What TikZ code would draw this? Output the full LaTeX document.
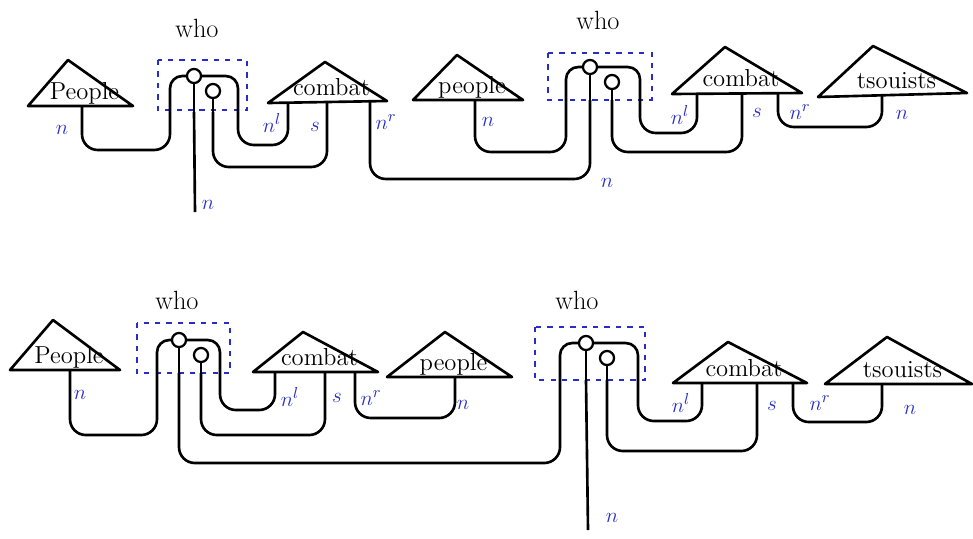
\documentclass[tikz,border=0pt]{standalone}
\usetikzlibrary{calc}
\definecolor{lblue}{RGB}{40,45,200}
\begin{document}
\begin{tikzpicture}[x=0.02cm,y=-0.02cm,
  wire/.style={line width=1.5pt,rounded corners=9pt},
  arch/.style={line width=1.5pt,rounded corners=7pt},
  tri/.style={line width=1.5pt,fill=white,line join=round},
  wbox/.style={lblue,line width=1.2pt,dash pattern=on 3pt off 3.5pt},
  dot/.style={circle,draw,line width=1.3pt,fill=white,inner sep=0pt,minimum size=8pt},
  word/.style={font=\fontsize{14}{16}\selectfont,inner sep=0pt,anchor=base},
  lab/.style={lblue,font=\fontsize{13}{15}\selectfont,inner sep=1pt},
  whol/.style={font=\fontsize{15}{17}\selectfont,inner sep=0pt}]
\useasboundingbox (0,0) rectangle (973,538);

% ---------- triangles ----------
\newcommand{\mytri}[5]{%
  \draw[tri] #1 -- #2 -- #3 -- cycle;
  \node[word] (#4) at ($#2!0.5!#3+(4,-7)$) {#5};}

% top row
\mytri{(68,60)}{(28,106)}{(133,106)}{tP1}{People}
\mytri{(325,62)}{(268,103)}{(387,101)}{tC1}{combat}
\mytri{(457,55)}{(413,100)}{(523,100)}{tP2}{people}
\mytri{(725,47)}{(672,94)}{(802,93)}{tC2}{combat}
\mytri{(873,46)}{(818,97)}{(967,93)}{tT1}{tsouists}
% bottom row
\mytri{(53,320)}{(10,370)}{(120,370)}{bP1}{People}
\mytri{(303,332)}{(253,372)}{(378,372)}{bC1}{combat}
\mytri{(445,332)}{(387,377)}{(512,377)}{bP2}{people}
\mytri{(728,342)}{(673,383)}{(807,383)}{bC2}{combat}
\mytri{(887,337)}{(825,384)}{(972,384)}{bT1}{tsouists}

% ---------- ports on triangles ----------
\coordinate (p1) at (82,106);
\coordinate (c1l) at (288,103);
\coordinate (c1s) at (327,102);
\coordinate (c1r) at (370,101);
\coordinate (p2) at (475,100);
\coordinate (c2l) at (697,94);
\coordinate (c2s) at (742,93);
\coordinate (c2r) at (778,93);
\coordinate (t1) at (882,96);

\coordinate (bp1) at (70,370);
\coordinate (bc1l) at (275,372);
\coordinate (bc1s) at (325,372);
\coordinate (bc1r) at (355,372);
\coordinate (bp2) at (455,377);
\coordinate (bc2l) at (702,383);
\coordinate (bc2s) at (757,383);
\coordinate (bc2r) at (793,383);
\coordinate (bt1) at (882,384);

% ---------- who boxes ----------
\newcommand{\mywho}[9]{%
  \draw[wbox] (#8) rectangle (#9);
  \coordinate (#1a) at (#2,#7);
  \coordinate (#1c) at (#3,#7);
  \coordinate (#1d) at (#4,#7);
  \coordinate (#1b) at (#5,#7);
  \draw[arch] (#1a) |- (#5,#6) -- (#1b);
  \draw[line width=1.5pt] (#3,#6) -- (#1c);
  \draw[line width=1.5pt] (#4,#6+15) -- (#1d);
  \node[dot] (#1o) at (#3,#6) {};
  \node[dot] (#1p) at (#4,#6+15) {};}

\mywho{wA}{170}{194}{213}{238}{76}{112}{158,60}{247,110}
\mywho{wB}{566}{590}{612}{640}{67}{100}{548,53}{652,100}
\mywho{wC}{157}{179}{201}{220}{340}{373}{137,323}{230,373}
\mywho{wD}{560}{586}{607}{638}{343}{380}{535,327}{645,380}

\node[whol] (whoA) at (197,28) {who};
\node[whol] (whoB) at (598,20) {who};
\node[whol] (whoC) at (177,300) {who};
\node[whol] (whoD) at (577,300) {who};

% ---------- wires, top row ----------
\draw[wire] (p1) -- ++(0,44) -| (wAa);
\draw[wire] (wAb) -- ++(0,33) -| (c1l);
\draw[wire] (wAd) -- ++(0,55) -| (c1s);
\coordinate (endA) at (195,212);
\draw[line width=1.5pt] (wAc) -- (endA);
\draw[wire] (c1r) -- ++(0,78) -| (wBc);
\draw[wire] (p2) -- ++(0,52) -| (wBa);
\draw[wire] (wBb) -- ++(0,33) -| (c2l);
\draw[wire] (wBd) -- ++(0,52) -| (c2s);
\draw[wire] (c2r) -- ++(0,34) -| (t1);

% ---------- wires, bottom row ----------
\draw[wire] (bp1) -- ++(0,65) -| (wCa);
\draw[wire] (wCb) -- ++(0,37) -| (bc1l);
\draw[wire] (wCd) -- ++(0,62) -| (bc1s);
\draw[wire] (wCc) -- ++(0,90) -| (wDa);
\draw[wire] (bc1r) -- ++(0,46) -| (bp2);
\coordinate (endD) at (588,530);
\draw[line width=1.5pt] (wDc) -- (endD);
\draw[wire] (wDd) -- ++(0,71) -| (bc2s);
\draw[wire] (wDb) -- ++(0,41) -| (bc2l);
\draw[wire] (bc2r) -- ++(0,39) -| (bt1);

% ---------- labels ----------
\node[lab] at (62,130) {$n$};
\node[lab] at (272,123) {$n^l$};
\node[lab] at (315,127) {$s$};
\node[lab] at (208,205) {$n$};
\node[lab] at (386,122) {$n^r$};
\node[lab] at (488,122) {$n$};
\node[lab] at (607,183) {$n$};
\node[lab] at (680,115) {$n^l$};
\node[lab] at (757,113) {$s$};
\node[lab] at (800,112) {$n^r$};
\node[lab] at (902,115) {$n$};

\node[lab] at (80,395) {$n$};
\node[lab] at (290,397) {$n^l$};
\node[lab] at (337,398) {$s$};
\node[lab] at (371,398) {$n^r$};
\node[lab] at (463,405) {$n$};
\node[lab] at (612,518) {$n$};
\node[lab] at (681,403) {$n^l$};
\node[lab] at (772,406) {$s$};
\node[lab] at (820,403) {$n^r$};
\node[lab] at (910,410) {$n$};
\end{tikzpicture}
\end{document}
